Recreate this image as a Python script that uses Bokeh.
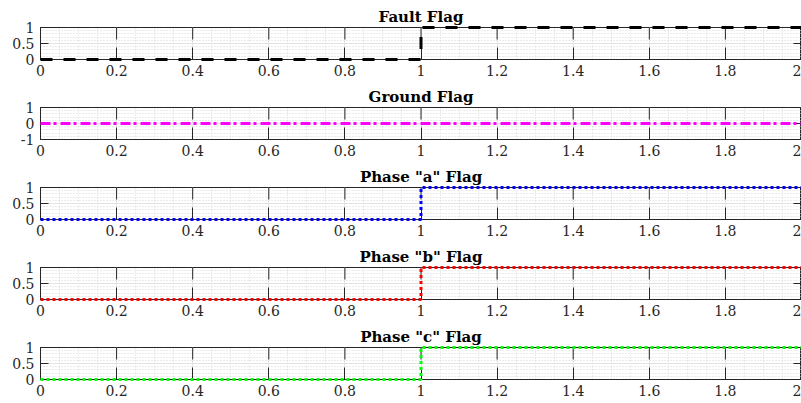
import math
from bokeh.plotting import figure
from bokeh.layouts import column
from bokeh.models import Range1d, FixedTicker, NumeralTickFormatter
from bokeh.embed import file_html
from bokeh.resources import INLINE

# ---- data ----
t_step = [0.0, 1.0, 1.0, 2.0]
fault_flag = [0, 0, 1, 1]
t_ground = [0.0, 2.0]
ground_flag = [0, 0]
phase_a_flag = [0, 0, 1, 1]
phase_b_flag = [0, 0, 1, 1]
phase_c_flag = [0, 0, 1, 1]

x_ticks = [0, 0.2, 0.4, 0.6, 0.8, 1.0, 1.2, 1.4, 1.6, 1.8, 2.0]
x_minor = [i * 0.05 for i in range(41)]
y_ticks_01 = [0, 0.5, 1]
y_minor_01 = [i * 0.1 for i in range(11)]
y_ticks_ground = [-1, 0, 1]
y_minor_ground = [-1 + i * 0.2 for i in range(11)]

panels = [
    ("Fault Flag", t_step, fault_flag, "black", "12 11", (0, 1), y_ticks_01, y_minor_01),
    ("Ground Flag", t_ground, ground_flag, "#ff00ff", "10 3 3 4", (-1, 1), y_ticks_ground, y_minor_ground),
    ('Phase "a" Flag', t_step, phase_a_flag, "#0000ff", "3 3", (0, 1), y_ticks_01, y_minor_01),
    ('Phase "b" Flag', t_step, phase_b_flag, "#ff0000", "3 3", (0, 1), y_ticks_01, y_minor_01),
    ('Phase "c" Flag', t_step, phase_c_flag, "#00ff00", "3 3", (0, 1), y_ticks_01, y_minor_01),
]

FONT = "DejaVu Serif"
AX = "#262626"

figs = []
for i, (title, xs, ys, color, dash, yr, yt, ym) in enumerate(panels):
    last = i == len(panels) - 1
    p = figure(width=801, height=83 if last else 80, output_backend="svg",
               toolbar_location=None, title=title,
               x_range=Range1d(0, 2), y_range=Range1d(*yr),
               min_border_left=40, min_border_right=0,
               min_border_top=27, min_border_bottom=24 if last else 21)
    p.title.align = "center"
    p.title.text_font = FONT
    p.title.text_font_size = "15px"
    p.title.text_font_style = "bold"
    p.title.text_color = "black"
    p.title.standoff = 4
    p.background_fill_color = "white"
    p.border_fill_color = "white"
    p.outline_line_color = AX

    xt = FixedTicker(ticks=x_ticks, minor_ticks=x_minor)
    ytk = FixedTicker(ticks=yt, minor_ticks=ym)
    p.xaxis.ticker = xt
    p.yaxis.ticker = ytk
    p.xgrid.ticker = xt
    p.ygrid.ticker = ytk
    for ax in (p.xaxis[0], p.yaxis[0]):
        ax.formatter = NumeralTickFormatter(format="0.[0]")
        ax.major_label_text_font = FONT
        ax.major_label_text_font_size = "14px"
        ax.major_label_text_color = AX
        ax.axis_line_color = AX
        ax.major_tick_line_color = AX
        ax.major_tick_out = 0
        ax.minor_tick_in = 0
        ax.minor_tick_out = 0
    p.xaxis.major_tick_in = 12
    p.xaxis.major_label_standoff = 5
    p.yaxis.major_tick_in = 8
    p.yaxis.major_label_standoff = 6

    for g in (p.xgrid[0], p.ygrid[0]):
        g.grid_line_color = "#e3e3e3"
        g.minor_grid_line_color = "#d6d6d6"
        g.minor_grid_line_dash = "1 2"
        g.minor_grid_line_width = 1

    # mirrored inward ticks on top and right edges
    p.ray(x=x_ticks, y=[yr[1]] * len(x_ticks), length=12, length_units="screen",
          angle=-math.pi / 2, line_color=AX, line_width=1)
    p.ray(x=[2.0] * len(yt), y=yt, length=8, length_units="screen",
          angle=math.pi, line_color=AX, line_width=1)

    p.line(xs, ys, line_color=color, line_width=3, line_dash=dash, level="overlay")
    figs.append(p)

layout = column(*figs, spacing=0)
open("out.html", "w").write(file_html(layout, INLINE))
